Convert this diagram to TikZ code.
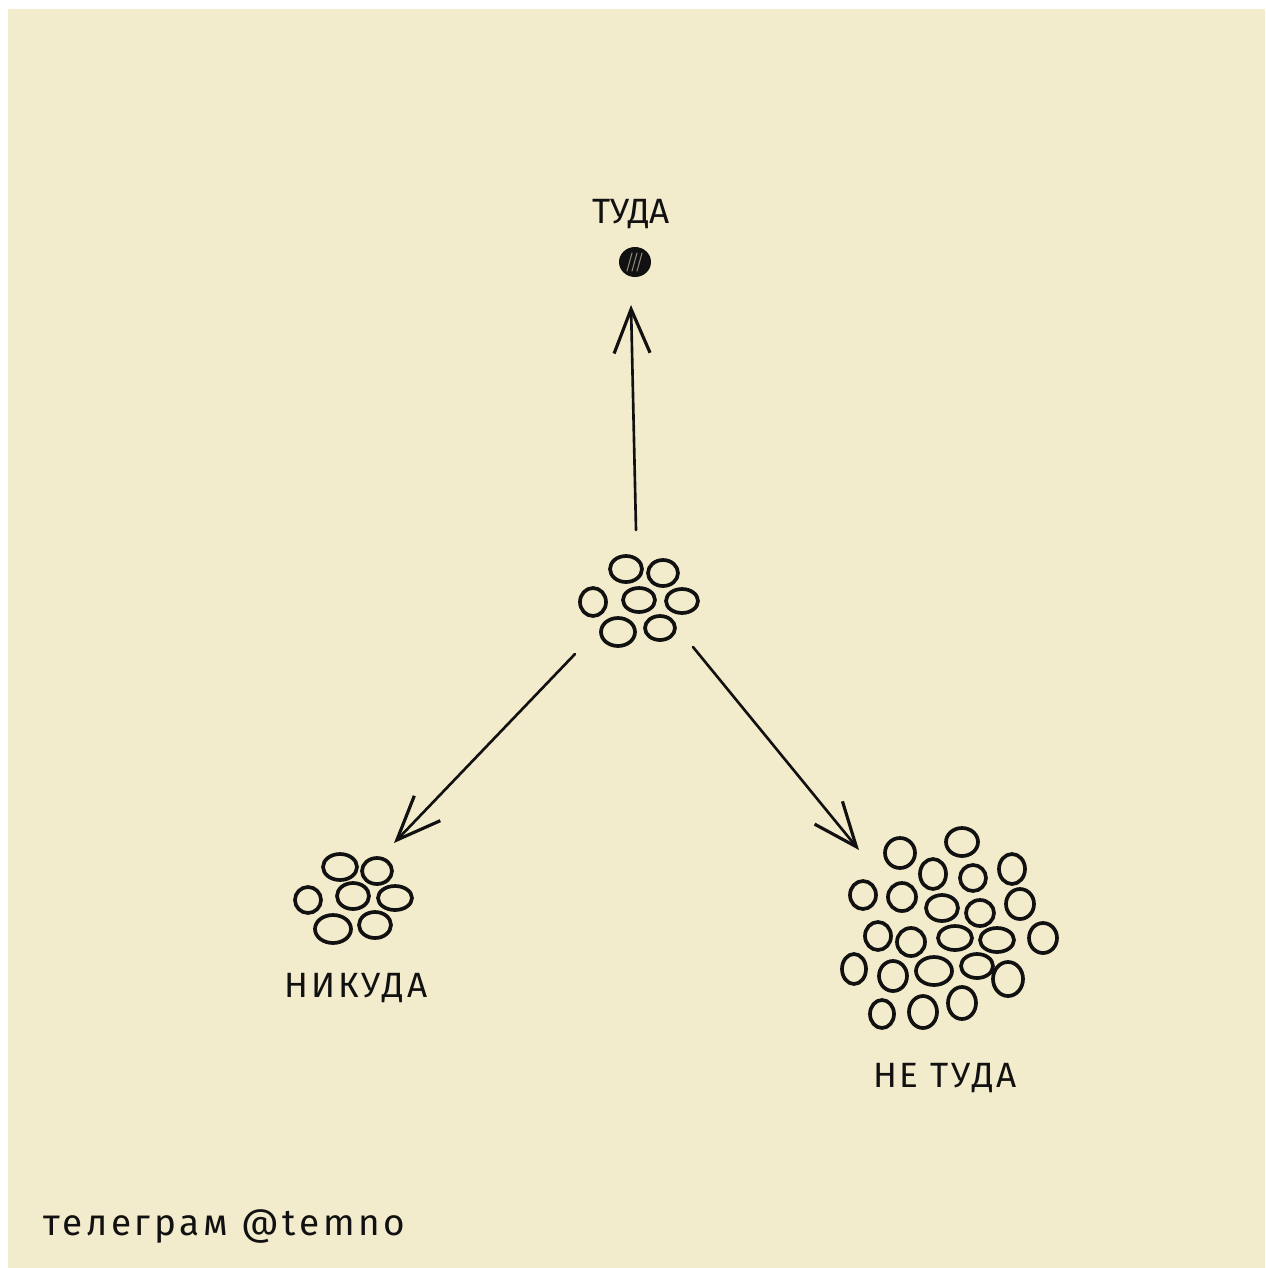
\documentclass[tikz,border=0pt]{standalone}
\usepackage{fontspec}
\setmainfont{Fira Sans}
\newfontfamily\spacedfont{Fira Sans}[LetterSpace=8]
\newfontfamily\signfont{Fira Sans}[LetterSpace=10]
\usetikzlibrary{arrows.meta,calc}

\definecolor{paper}{HTML}{F2ECCC}
\definecolor{ink}{HTML}{111111}

\begin{document}
\begin{tikzpicture}[x=0.02cm,y=0.02cm,line cap=round,line join=round,
        pebble/.style={draw=ink,line width=2.1pt},
        way/.style={draw=ink,line width=1.5pt,
            -{Straight Barb[length=0.88cm,width=0.72cm,line width=1.8pt]}},
        caption/.style={text=ink,anchor=base,inner sep=0pt,
            font=\fontsize{20}{24}\selectfont}]
        % paper and frame
        \fill[white] (0,0) rectangle (1265,-1268);
        \fill[paper] (8,-9) rectangle (1265,-1268);
        \useasboundingbox (0,0) rectangle (1265,-1268);

        % the single dot up top
        \coordinate (dot) at (635,-262);
        \fill[ink] (dot) ellipse [x radius=16, y radius=15];
        \foreach \x in {-8,-3,2}
                \draw[paper!55!ink,line width=0.6pt] ($(dot)+(\x,-9)$) -- ($(dot)+(\x+5,9)$);
        \node[caption] (tuda label) at (631,-223) {ТУДА};

        % the group in the middle
        \foreach \x/\y/\a/\b in {
            626/569/16/13, 663/573/15/13,
            593/602/13/14, 639/600/16/12, 682/601/16/12,
            618/632/17/14, 660/628/15/12}
                \draw[pebble] (\x,-\y) ellipse [x radius=\a, y radius=\b];

        % the small group on the left
        \foreach \x/\y/\a/\b in {
            340/867/17/13, 377/871/15/13,
            308/900/13/13, 353/896/16/13, 395/898/17/12,
            333/929/18/14, 375/925/16/13}
                \draw[pebble] (\x,-\y) ellipse [x radius=\a, y radius=\b];
        \node[caption,font=\fontsize{20}{24}\spacedfont] (nikuda label) at (356,-997) {НИКУДА};

        % the big group on the right
        \foreach \x/\y/\a/\b in {
            900/853/15/15, 962/842/16/14,
            933/874/13/15, 973/878/13/13, 1012/869/13/15,
            863/895/13/14, 902/897/14/14, 942/908/16/13, 980/913/14/13, 1020/904/14/15,
            878/936/13/14, 911/942/14/14, 955/938/17/12, 997/940/17/12, 1043/938/14/15,
            854/969/12/15, 893/976/14/15, 934/971/18/14, 977/966/16/12, 1008/979/15/17,
            882/1014/12/14, 923/1012/14/16, 962/1003/14/16}
                \draw[pebble] (\x,-\y) ellipse [x radius=\a, y radius=\b];
        \node[caption,font=\fontsize{20}{24}\spacedfont] (netuda label) at (945,-1087) {НЕ ТУДА};

        % arrow ends
        \coordinate (mid up) at (636,-530);
        \coordinate (tuda) at (631,-305);
        \coordinate (mid left) at (575,-654);
        \coordinate (nikuda) at (394,-843);
        \coordinate (mid right) at (693,-647);
        \coordinate (netuda) at (859,-850);

        % draw the arrows
        \draw[way] (mid up) -- (tuda);
        \draw[way] (mid left) -- (nikuda);
        \draw[way] (mid right) -- (netuda);

        % signature
        \node[text=ink,anchor=base west,inner sep=0pt,
            font=\fontsize{21}{25}\signfont] (sign) at (43,-1235) {телеграм @temno};
\end{tikzpicture}
\end{document}
